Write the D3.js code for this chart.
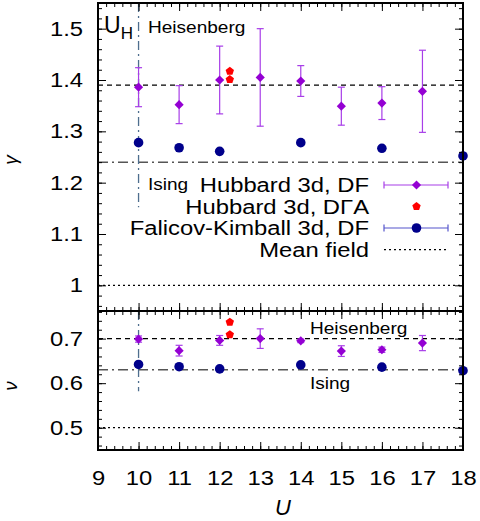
<!DOCTYPE html>
<html>
<head>
<meta charset="utf-8">
<script src="https://cdn.jsdelivr.net/npm/d3@7"></script>
<style>
  body { margin: 0; background: #fff; }
  text { font-family: "Liberation Sans", Arial, sans-serif; fill: #000; }
</style>
</head>
<body>
<div id="chart"></div>
<script>
// data
var uDF = [10, 11, 12, 13, 14, 15, 16, 17];
var gammaDF = [1.386, 1.352, 1.400, 1.405, 1.398, 1.349, 1.355, 1.378];
var gammaDFerr = [0.038, 0.037, 0.066, 0.095, 0.030, 0.037, 0.032, 0.080];
var nuDF = [0.699, 0.673, 0.696, 0.700, 0.695, 0.672, 0.675, 0.690];
var nuDFerr = [0.007, 0.012, 0.011, 0.022, 0.004, 0.012, 0.006, 0.017];

var uDGA = [12.25, 12.25];
var gammaDGA = [1.417, 1.401];
var nuDGA = [0.737, 0.709];

var uFK = [10, 11, 12, 14, 16, 18];
var gammaFK = [1.278, 1.268, 1.261, 1.278, 1.267, 1.252];
var nuFK = [0.642, 0.637, 0.632, 0.641, 0.636, 0.628];

// reference exponents: Heisenberg, Ising, mean field
var gammaRef = {heis: 1.39, ising: 1.24, mf: 1.0};
var nuRef = {heis: 0.70, ising: 0.63, mf: 0.5};
var uH = 10;

var xTicks = d3.range(9, 19);
var gammaTicks = [1, 1.1, 1.2, 1.3, 1.4, 1.5];
var nuTicks = [0.5, 0.6, 0.7];

var legendLabels = ["Hubbard 3d, DF", "Hubbard 3d, D\u0393A", "Falicov-Kimball 3d, DF", "Mean field"];

var violet = "#9400d3", violetBar = "#a83ee8", red = "#ff0000", navy = "#00008b";

var W = 480, H = 521;
var left = 98, right = 463;
var stretch = 1.19;   // the sans text in the picture is wider than Liberation Sans

var svg = d3.select("#chart").append("svg")
    .attr("width", W)
    .attr("height", H);

var x = d3.scaleLinear().domain([9, 18]).range([left, right]);
var yTop = d3.scaleLinear().domain([0.95, 1.55]).range([311, 3]);
var yBot = d3.scaleLinear().domain([0.45, 0.762]).range([450, 311]);

function minor(lo, hi, step) {
    var n = Math.round((hi - lo) / step);
    return d3.range(n + 1).map(function(i) { return +(lo + i * step).toFixed(4); });
}

// wide text placed at (px,py)
function label(px, py, str, size, anchor) {
    return svg.append("text")
        .attr("transform", "translate(" + px + "," + py + ") scale(" + stretch + ",1)")
        .attr("text-anchor", anchor || "start")
        .attr("font-size", size + "px")
        .text(str);
}

// axes with inward ticks on all four sides
function frame(y, labelTicks, minorTicks, showX) {
    var g = svg.append("g");
    var y0 = y.range()[0], y1 = y.range()[1];
    var xMinor = minor(9, 18, 0.2);

    g.append("g").attr("transform", "translate(" + left + ",0)")
        .call(d3.axisLeft(y).tickValues(minorTicks).tickSize(-4).tickFormat(""));
    g.append("g").attr("class", "lab").attr("transform", "translate(" + left + ",0)")
        .call(d3.axisLeft(y).tickValues(labelTicks).tickSize(-8).tickPadding(12.6)
              .tickFormat(function(d) { return d === 1 ? "1" : d3.format(".1f")(d); }));
    g.append("g").attr("transform", "translate(" + right + ",0)")
        .call(d3.axisRight(y).tickValues(minorTicks).tickSize(-4).tickFormat(""));
    g.append("g").attr("transform", "translate(" + right + ",0)")
        .call(d3.axisRight(y).tickValues(labelTicks).tickSize(-8).tickFormat(""));

    g.append("g").attr("transform", "translate(0," + y0 + ")")
        .call(d3.axisBottom(x).tickValues(xMinor).tickSize(-4).tickFormat(""));
    g.append("g").attr("class", "lab").attr("transform", "translate(0," + y0 + ")")
        .call(d3.axisBottom(x).tickValues(xTicks).tickSize(-8).tickPadding(21)
              .tickFormat(showX ? d3.format("d") : ""));
    g.append("g").attr("transform", "translate(0," + y1 + ")")
        .call(d3.axisTop(x).tickValues(xMinor).tickSize(-4).tickFormat(""));
    g.append("g").attr("transform", "translate(0," + y1 + ")")
        .call(d3.axisTop(x).tickValues(xTicks).tickSize(-8).tickFormat(""));

    g.selectAll(".domain").remove();
    g.selectAll(".tick line").attr("stroke", "#000").attr("stroke-width", 1);
    g.selectAll(".lab .tick text")
        .attr("font-size", "20px")
        .attr("font-family", "'Liberation Sans', Arial, sans-serif")
        .attr("transform", "scale(" + stretch + ",1)");

    g.append("rect")
        .attr("x", left).attr("y", y1)
        .attr("width", right - left).attr("height", y0 - y1)
        .attr("fill", "none").attr("stroke", "#000").attr("stroke-width", 2);
}

function hline(y, v, dash, color, width) {
    svg.append("line")
        .attr("x1", left).attr("x2", right)
        .attr("y1", y(v)).attr("y2", y(v))
        .attr("stroke", color).attr("stroke-width", width || 1.2)
        .attr("stroke-dasharray", dash);
}

function vline(y, v0, v1) {
    svg.append("line")
        .attr("x1", x(uH)).attr("x2", x(uH))
        .attr("y1", y(v0)).attr("y2", y(v1))
        .attr("stroke", "#4e6e8e").attr("stroke-width", 1.3)
        .attr("stroke-dasharray", "9,4,2,4");
}

var diamond = d3.symbol(d3.symbolSquare, 42);
var pentagon = d3.line()(d3.range(5).map(function(i) {
    var a = -Math.PI / 2 + i * 2 * Math.PI / 5;
    return [4.4 * Math.cos(a), 4.4 * Math.sin(a)];
})) + "Z";

function errorBars(y, us, vals, errs) {
    var g = svg.append("g").attr("stroke", violetBar).attr("stroke-width", 1.2);
    us.forEach(function(u, i) {
        var cx = x(u), ylo = y(vals[i] - errs[i]), yhi = y(vals[i] + errs[i]);
        g.append("line").attr("x1", cx).attr("x2", cx).attr("y1", ylo).attr("y2", yhi);
        g.append("line").attr("x1", cx - 3.5).attr("x2", cx + 3.5).attr("y1", ylo).attr("y2", ylo);
        g.append("line").attr("x1", cx - 3.5).attr("x2", cx + 3.5).attr("y1", yhi).attr("y2", yhi);
    });
}

function points(y, dfVals, dfErr, dgaVals, fkVals) {
    errorBars(y, uDF, dfVals, dfErr);
    svg.append("g").selectAll("path").data(uDF).join("path")
        .attr("d", diamond)
        .attr("fill", violet)
        .attr("transform", function(u, i) { return "translate(" + x(u) + "," + y(dfVals[i]) + ") rotate(45)"; });
    svg.append("g").selectAll("path").data(uDGA).join("path")
        .attr("d", pentagon)
        .attr("fill", red)
        .attr("transform", function(u, i) { return "translate(" + x(u) + "," + y(dgaVals[i]) + ")"; });
    svg.append("g").selectAll("circle").data(uFK).join("circle")
        .attr("cx", function(u) { return x(u); })
        .attr("cy", function(u, i) { return y(fkVals[i]); })
        .attr("r", 4.8)
        .attr("fill", navy);
}

// top panel: gamma
hline(yTop, gammaRef.mf, "2,3", "#000", 1.2);
hline(yTop, gammaRef.heis, "5,4", "#000", 1.2);
hline(yTop, gammaRef.ising, "10,4,2,4", "#555", 1.5);
vline(yTop, 1.55, 1.152);
points(yTop, gammaDF, gammaDFerr, gammaDGA, gammaFK);
frame(yTop, gammaTicks, minor(0.96, 1.54, 0.02), false);

// bottom panel: nu
hline(yBot, nuRef.mf, "2,3", "#000", 1.2);
hline(yBot, nuRef.heis, "5,4", "#000", 1.2);
hline(yBot, nuRef.ising, "10,4,2,4", "#555", 1.5);
vline(yBot, 0.762, 0.582);
points(yBot, nuDF, nuDFerr, nuDGA, nuFK);
frame(yBot, nuTicks, minor(0.46, 0.76, 0.02), true);

// annotations
var uh = svg.append("text").attr("x", 104).attr("y", 33).attr("font-size", "23px");
uh.append("tspan").text("U");
uh.append("tspan").attr("dy", 6).attr("font-size", "17px").text("H");
label(148, 33, "Heisenberg", 16);
label(148, 190, "Ising", 16);
label(310, 334, "Heisenberg", 16);
label(310, 389, "Ising", 16);

// legend
var legY = [185, 206.5, 228, 249.7];
var lx0 = 384, lx1 = 448, lxm = 416.5;
legendLabels.forEach(function(d, i) {
    label(369, legY[i] + 7, d, 20, "end");
});

var leg = svg.append("g");
[[0, violetBar], [2, "#5555cc"]].forEach(function(r) {
    var yy = legY[r[0]];
    var g = leg.append("g").attr("stroke", r[1]).attr("stroke-width", 1.2);
    g.append("line").attr("x1", lx0).attr("x2", lx1).attr("y1", yy).attr("y2", yy);
    g.append("line").attr("x1", lx0).attr("x2", lx0).attr("y1", yy - 3.5).attr("y2", yy + 3.5);
    g.append("line").attr("x1", lx1).attr("x2", lx1).attr("y1", yy - 3.5).attr("y2", yy + 3.5);
});
leg.append("path").attr("d", diamond).attr("fill", violet)
    .attr("transform", "translate(" + lxm + "," + legY[0] + ") rotate(45)");
leg.append("path").attr("d", pentagon).attr("fill", red)
    .attr("transform", "translate(" + lxm + "," + legY[1] + ")");
leg.append("circle").attr("cx", lxm).attr("cy", legY[2]).attr("r", 4.8).attr("fill", navy);
leg.append("line").attr("x1", lx0).attr("x2", lx1).attr("y1", legY[3]).attr("y2", legY[3])
    .attr("stroke", "#000").attr("stroke-width", 1.2).attr("stroke-dasharray", "2,3");

// axis titles
svg.append("text")
    .attr("transform", "translate(17,160) rotate(-90)")
    .attr("text-anchor", "middle")
    .attr("font-family", "'Liberation Serif', serif")
    .attr("font-style", "italic")
    .attr("font-size", "19px")
    .text("\u03b3");
svg.append("text")
    .attr("transform", "translate(17,386) rotate(-90)")
    .attr("text-anchor", "middle")
    .attr("font-family", "'Liberation Serif', serif")
    .attr("font-style", "italic")
    .attr("font-size", "19px")
    .text("\u03bd");
svg.append("text")
    .attr("x", 283).attr("y", 515)
    .attr("text-anchor", "middle")
    .attr("font-family", "'Liberation Serif', serif")
    .attr("font-style", "italic")
    .attr("font-size", "22px")
    .text("U");
</script>
</body>
</html>
